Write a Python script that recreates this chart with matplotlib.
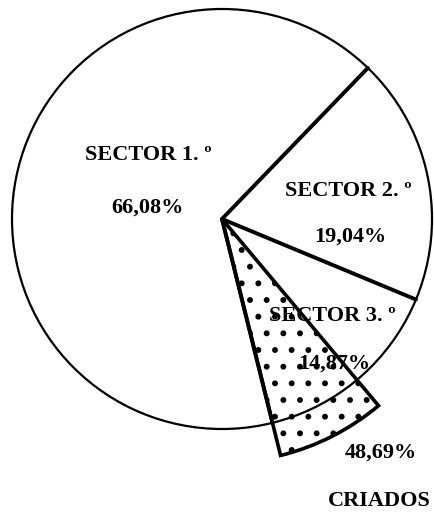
import matplotlib
matplotlib.use("Agg")
import numpy as np
import matplotlib.pyplot as plt
from matplotlib.patches import Wedge, Circle

# Data
sectors = ["SECTOR 2. º", "SECTOR 3. º", "SECTOR 1. º"]
shares = [19.04, 14.87, 66.08]
share_labels = ["19,04%", "14,87%", "66,08%"]
criados_share = 48.69          # % of sector 3
criados_label = "48,69%"
criados_name = "CRIADOS"

W, H = 435, 514
fig = plt.figure(figsize=(W / 100, H / 100), dpi=100)
ax = fig.add_axes([0, 0, 1, 1])

cx, cy = 222, H - 219
R = 210
start = 46

wedges, _ = ax.pie(shares, startangle=start, counterclock=False, center=(cx, cy),
                   radius=R, wedgeprops=dict(facecolor="white", linewidth=0),
                   frame=True)
ax.set_xlim(0, W)
ax.set_ylim(0, H)
ax.set_aspect("equal")
ax.axis("off")

# Criados wedge: part of sector 3, adjacent to its clockwise end
s3 = wedges[1]
s3_span = s3.theta2 - s3.theta1
theta1 = s3.theta1
theta2 = s3.theta1 + s3_span * criados_share / 100
plt.rcParams["hatch.linewidth"] = 1.8
wedge = Wedge((cx, cy), R * 1.16, theta1, theta2, facecolor="white",
              edgecolor="black", hatch=".", linewidth=2.6, zorder=5)
ax.add_patch(wedge)
ax.add_patch(Circle((cx, cy), R, fill=False, edgecolor="black", linewidth=1.6, zorder=6))

# radial boundary lines from the pie wedges
for w in wedges:
    a = np.deg2rad(w.theta1)
    ax.plot([cx, cx + R * np.cos(a)], [cy, cy + R * np.sin(a)], color="black",
            lw=2.8, solid_capstyle="round", zorder=7)

font = dict(family="Liberation Serif", fontsize=16, weight="bold", color="black", zorder=10)

def T(x, y, s, ha="center"):
    ax.text(x, H - y, s, ha=ha, va="center", **font)

T(148, 155, sectors[2])
T(147, 208, share_labels[2])
T(348, 191, sectors[0])
T(350, 237, share_labels[0])
T(332, 316, sectors[1])
T(334, 364, share_labels[1])
T(381, 453, criados_label)
T(328, 501, criados_name, ha="left")

fig.savefig("out.png", dpi=100)
